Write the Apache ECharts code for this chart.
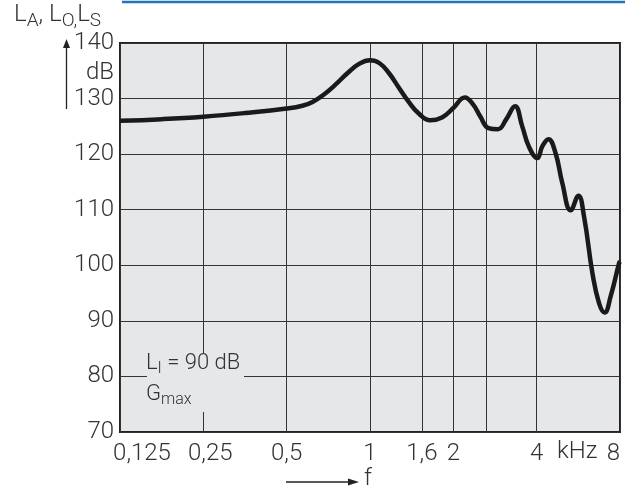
<!DOCTYPE html>
<html>
<head>
<meta charset="utf-8">
<script src="https://cdn.jsdelivr.net/npm/echarts@6/dist/echarts.min.js"></script>
<style>
html,body{margin:0;padding:0;background:#fff;}
#c{width:625px;height:493px;}
</style>
</head>
<body>
<div id="c"></div>
<script>
// Frequency (kHz) and level (dB)
const freq = [0.125, 0.177, 0.25, 0.354, 0.5, 0.57, 0.62, 0.68, 0.75, 0.83, 0.91, 1.0, 1.08, 1.17, 1.27, 1.38, 1.5, 1.65, 1.82, 2.0, 2.2, 2.36, 2.5, 2.68, 2.9, 3.1, 3.34, 3.55, 3.75, 4.02, 4.2, 4.41, 4.68, 4.95, 5.31, 5.66, 5.93, 6.36, 6.72, 7.04, 7.40, 7.94, 8.0];
const level = [126.0, 126.3, 126.75, 127.4, 128.2, 128.7, 129.4, 130.7, 132.5, 134.6, 136.2, 136.9, 136.4, 134.6, 132.0, 129.4, 127.3, 126.1, 126.6, 128.3, 130.2, 128.9, 126.8, 124.7, 124.5, 126.2, 128.6, 124.95, 121.35, 119.3, 121.5, 122.7, 120.2, 114.8, 109.9, 112.5, 108.8, 98.6, 93.2, 91.5, 94.4, 100.4, 100.7];

const xTickValues = [0.125, 0.25, 0.5, 1, 2, 4, 8];
const xTickText = ['0,125', '0,25', '0,5', '1', '2', '4', '8'];
const xTickStyle = ['first', 'second', 'c', 'c', 'c', 'c', 'c'];
const extraGridValues = [1.54, 2.62];
const extraGridText = ['1,6', ''];
const yMin = 70, yMax = 140, yStep = 10;

const FONT = 'Roboto';
const TXT = '#333';
const BG = '#e6e7e9';
const FS = 24;

const chart = echarts.init(document.getElementById('c'), null, {renderer: 'canvas'});

function fmtX(v) {
  for (let i = 0; i < xTickValues.length; i++) {
    if (Math.abs(v - xTickValues[i]) < 1e-6) return '{' + xTickStyle[i] + '|' + xTickText[i] + '}';
  }
  return '';
}

const lblBase = {fontSize: FS, fontFamily: FONT, fontWeight: 300, color: TXT};

const option = {
  animation: false,
  backgroundColor: '#fff',
  grid: {
    left: 120, right: 5, top: 43, bottom: 61,
    show: true, backgroundColor: BG, borderColor: '#222', borderWidth: 2
  },
  xAxis: {
    type: 'log', logBase: 2, min: 0.125, max: 8, splitNumber: 6,
    axisLine: {show: false},
    axisTick: {show: false},
    splitLine: {show: true, lineStyle: {color: '#333', width: 1}},
    axisLabel: {
      formatter: fmtX, margin: 10, fontSize: FS, fontFamily: FONT, fontWeight: 300, color: TXT,
      alignMaxLabel: 'right', showMinLabel: true, showMaxLabel: true, hideOverlap: false,
      rich: {
        first: Object.assign({padding: [0, 0, 0, 44]}, lblBase),
        second: Object.assign({padding: [0, 0, 0, 14]}, lblBase),
        c: Object.assign({}, lblBase)
      }
    }
  },
  yAxis: {
    type: 'value', min: yMin, max: yMax, interval: yStep,
    axisLine: {show: false},
    axisTick: {show: false},
    splitLine: {show: true, lineStyle: {color: '#333', width: 1}},
    axisLabel: {margin: 6, fontSize: FS, fontFamily: FONT, fontWeight: 300, color: TXT,
      padding: [6, 0, 0, 0]}
  },
  series: [{
    type: 'line',
    data: freq.map((f, i) => [f, level[i]]),
    smooth: 0.45,
    symbol: 'none',
    lineStyle: {color: '#1a1a1a', width: 4.5},
    z: 5,
    markLine: {
      silent: true, symbol: 'none',
      lineStyle: {color: '#333', width: 1, type: 'solid'},
      label: {
        show: true, position: 'start', distance: 10,
        fontSize: FS, fontFamily: FONT, fontWeight: 300, color: TXT,
        formatter: p => extraGridText[extraGridValues.indexOf(p.value)] || ''
      },
      data: extraGridValues.map(v => ({xAxis: v}))
    }
  }],
  graphic: [
    // blue rule at top
    {type: 'line', shape: {x1: 122, y1: 2, x2: 625, y2: 2}, style: {stroke: '#2275bd', lineWidth: 2.5}},
    // y-axis title
    {type: 'text', left: 14, top: 3, style: {
      rich: {
        n: {fontSize: 24, fontFamily: FONT, fontWeight: 300, fill: TXT, verticalAlign: 'top', lineHeight: 30},
        s: {fontSize: 19, fontFamily: FONT, fontWeight: 300, fill: TXT, verticalAlign: 'top', lineHeight: 30, padding: [9, 0, 0, 0]}
      },
      text: '{n|L}{s|A}{n|, L}{s|O,}{n|L}{s|S}'
    }},
    // arrow on y axis
    {type: 'line', shape: {x1: 66.5, y1: 47, x2: 66.5, y2: 109}, style: {stroke: '#222', lineWidth: 1.3}},
    {type: 'polygon', shape: {points: [[66.5, 39], [63, 48], [70, 48]]}, style: {fill: '#222'}},
    // dB unit
    {type: 'text', right: 625 - 114, top: 61, style: {text: 'dB', fontSize: FS, fontFamily: FONT, fontWeight: 300, fill: TXT, textAlign: 'right'}},
    // kHz unit
    {type: 'text', left: 557, top: 440, style: {text: 'kHz', fontSize: FS, fontFamily: FONT, fontWeight: 300, fill: TXT}},
    // f arrow
    {type: 'line', shape: {x1: 286, y1: 482, x2: 352, y2: 482}, style: {stroke: '#222', lineWidth: 1.3}},
    {type: 'polygon', shape: {points: [[359, 482], [348, 478.5], [348, 485.5]]}, style: {fill: '#222'}},
    {type: 'text', left: 364, top: 467, style: {text: 'f', fontSize: FS, fontFamily: FONT, fontWeight: 300, fill: TXT}},
    // annotation box
    {type: 'rect', shape: {x: 147, y: 353, width: 97, height: 59}, style: {fill: BG}, z: 10},
    {type: 'text', left: 146, top: 352, z: 11, style: {
      rich: {
        n: {fontSize: 22, fontFamily: FONT, fontWeight: 300, fill: TXT, verticalAlign: 'top', lineHeight: 27},
        s: {fontSize: 16, fontFamily: FONT, fontWeight: 300, fill: TXT, verticalAlign: 'top', lineHeight: 27, padding: [9, 0, 0, 0]}
      },
      text: '{n|L}{s|I}{n| = 90 dB}'
    }},
    {type: 'text', left: 146, top: 383, z: 11, style: {
      rich: {
        n: {fontSize: 22, fontFamily: FONT, fontWeight: 300, fill: TXT, verticalAlign: 'top', lineHeight: 27},
        s: {fontSize: 16, fontFamily: FONT, fontWeight: 300, fill: TXT, verticalAlign: 'top', lineHeight: 27, padding: [9, 0, 0, 0]}
      },
      text: '{n|G}{s|max}'
    }}
  ]
};
chart.setOption(option);
</script>
</body>
</html>
